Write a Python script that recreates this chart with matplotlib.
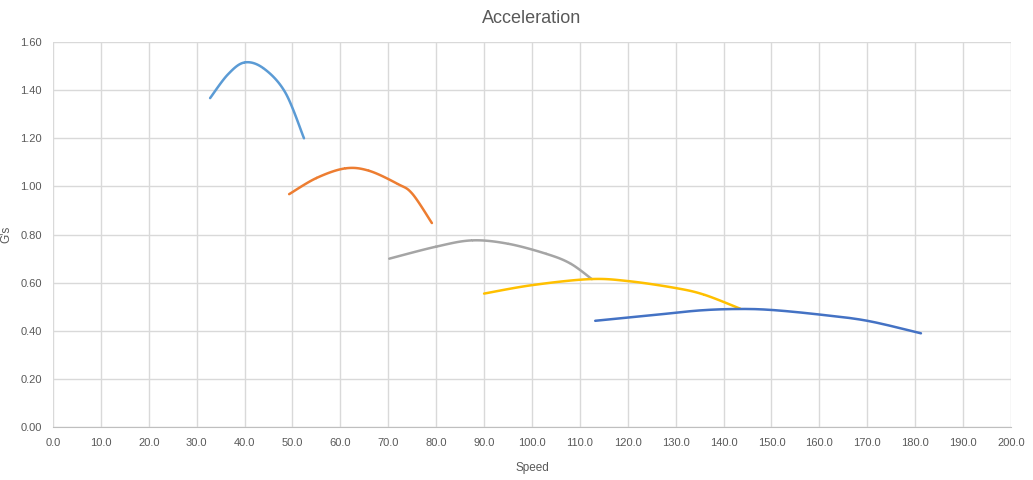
import numpy as np
import matplotlib
matplotlib.use('Agg')
import matplotlib.pyplot as plt

# readings per gear (speed, G's)
gear1_x = [32.8, 36.5, 40.0, 44.0, 48.5, 52.4]
gear1_y = [1.367, 1.465, 1.515, 1.49, 1.39, 1.20]
gear2_x = [49.3, 55.0, 61.0, 66.0, 72.0, 75.0, 79.1]
gear2_y = [0.968, 1.035, 1.075, 1.065, 1.01, 0.97, 0.848]
gear3_x = [70.2, 80.0, 87.5, 95.0, 103.0, 108.0, 112.5]
gear3_y = [0.70, 0.75, 0.776, 0.762, 0.72, 0.68, 0.615]
gear4_x = [90.0, 100.0, 112.0, 120.0, 130.0, 136.0, 143.5]
gear4_y = [0.555, 0.59, 0.615, 0.607, 0.578, 0.55, 0.492]
gear5_x = [113.2, 125.0, 135.0, 143.0, 150.0, 160.0, 170.0, 181.2]
gear5_y = [0.442, 0.465, 0.485, 0.491, 0.487, 0.468, 0.442, 0.39]

colors = ['#5B9BD5', '#ED7D31', '#A5A5A5', '#FFC000', '#4472C4']


def smooth(xs, ys, n=20):
    # Excel-like smoothed line (Catmull-Rom through the points)
    p = np.column_stack([xs, ys])
    p = np.vstack([p[0], p, p[-1]])
    out = []
    for i in range(1, len(p) - 2):
        p0, p1, p2, p3 = p[i - 1], p[i], p[i + 1], p[i + 2]
        t = np.linspace(0, 1, n)[:, None]
        c = 0.5 * ((2 * p1) + (-p0 + p2) * t + (2 * p0 - 5 * p1 + 4 * p2 - p3) * t ** 2
                   + (-p0 + 3 * p1 - 3 * p2 + p3) * t ** 3)
        out.append(c)
    out = np.vstack(out)
    return out[:, 0], out[:, 1]


plt.rcParams['font.family'] = ['Liberation Sans', 'DejaVu Sans']
fig = plt.figure(figsize=(10.33, 4.8), dpi=100)
ax = fig.add_axes([0.0513, 0.110, 0.9274, 0.8025])

series = [(gear1_x, gear1_y), (gear2_x, gear2_y), (gear3_x, gear3_y),
          (gear4_x, gear4_y), (gear5_x, gear5_y)]
for (xs, ys), c in zip(series, colors):
    sx, sy = smooth(xs, ys)
    ax.plot(sx, sy, color=c, lw=1.8, solid_capstyle='round')

ax.set_xlim(0, 200)
ax.set_ylim(0, 1.6)
ax.set_xticks(np.arange(0, 201, 10))
ax.set_yticks(np.arange(0, 1.61, 0.2))
ax.xaxis.set_major_formatter(matplotlib.ticker.FormatStrFormatter('%.1f'))
ax.yaxis.set_major_formatter(matplotlib.ticker.FormatStrFormatter('%.2f'))
ax.grid(True, color='#D9D9D9', lw=1)
ax.set_axisbelow(True)
for s in ['top', 'right', 'left']:
    ax.spines[s].set_visible(False)
ax.spines['bottom'].set_color('#BFBFBF')
ax.tick_params(length=0, labelsize=8, colors='#595959', pad=8)

ax.set_title('Acceleration', fontsize=13, color='#595959', pad=14)
ax.set_xlabel('Speed', fontsize=8.5, color='#595959', labelpad=10)
ax.set_ylabel("G's", fontsize=8.5, color='#595959')
ax.yaxis.set_label_coords(-0.042, 0.5)

fig.savefig('out.png', dpi=100)
